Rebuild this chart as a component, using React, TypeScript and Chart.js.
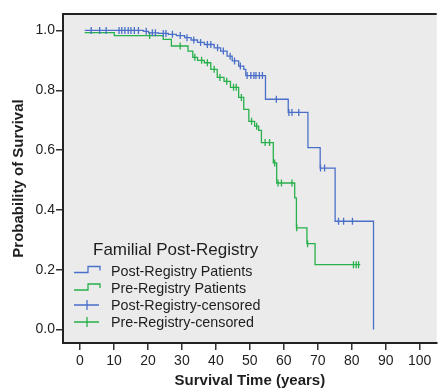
import React, { useEffect, useRef } from "react";
import { Chart, registerables } from "chart.js";

Chart.register(...registerables);

// Kaplan-Meier step data (time in years, survival probability)
const postTimes = [1.4, 18.7, 20.2, 23.1, 26.0, 28.4, 30.8, 32.7, 34.6, 36.6, 39.5, 41.4, 43.3, 44.8, 46.7, 48.2, 48.8, 54.6, 61.3, 67.1, 70.7, 75.1, 86.4];
const postSurv = [1.0, 0.997, 0.992, 0.99, 0.987, 0.983, 0.976, 0.968, 0.96, 0.953, 0.942, 0.931, 0.914, 0.898, 0.881, 0.87, 0.849, 0.77, 0.726, 0.608, 0.54, 0.362, 0.0];

const preTimes = [1.4, 10.1, 24.5, 26.9, 31.8, 33.2, 34.6, 36.6, 38.5, 40.4, 42.4, 44.3, 46.7, 48.2, 49.7, 51.4, 52.6, 53.4, 56.9, 57.9, 63.2, 63.7, 66.8, 69.2, 82.5];
const preSurv = [0.993, 0.983, 0.97, 0.948, 0.931, 0.91, 0.9, 0.892, 0.87, 0.843, 0.83, 0.81, 0.776, 0.736, 0.696, 0.68, 0.666, 0.625, 0.557, 0.49, 0.44, 0.34, 0.287, 0.217, 0.217];

// censoring times
const postCensored = [3.3, 5.8, 7.7, 11.5, 12.3, 13.2, 14.2, 15.0, 16.0, 17.2, 19.5, 21.3, 22.2, 24.5, 25.3, 27.2, 29.5, 31.5, 33.5, 35.5, 37.5, 38.5, 40.5, 42.2, 44.2, 45.5, 47.2, 49.2, 50.3, 51.2, 51.8, 52.8, 53.7, 57.8, 61.5, 62.4, 64.4, 70.8, 72.0, 76.1, 77.6, 80.2];
const preCensored = [20.5, 29.5, 33.8, 35.8, 37.5, 39.5, 41.2, 43.2, 45.2, 46.0, 47.5, 50.5, 52.0, 54.5, 55.8, 57.3, 58.3, 59.3, 62.4, 63.8, 67.0, 80.5, 81.3, 82.0];

const xTickValues = [0, 10, 20, 30, 40, 50, 60, 70, 80, 90, 100];
const yTickValues = [0, 0.2, 0.4, 0.6, 0.8, 1.0];

const legendTitle = "Familial Post-Registry";
const legendLabels = ["Post-Registry Patients", "Pre-Registry Patients", "Post-Registry-censored", "Pre-Registry-censored"];

const xTitle = "Survival Time (years)";
const yTitle = "Probability of Survival";

const BLUE = "#4a6fc9";
const GREEN = "#27b04b";
const TEXT = "#1e1e1e";
const FONT = '"Liberation Sans", Arial, sans-serif';

function survAt(times: number[], surv: number[], t: number) {
  let s = surv[0];
  for (let i = 0; i < times.length; i++) if (times[i] <= t) s = surv[i];
  return s;
}

const bgPlugin = {
  id: "bgPlugin",
  beforeDraw(chart: any) {
    const { ctx, chartArea: a } = chart;
    ctx.save();
    ctx.fillStyle = "#ebebeb";
    ctx.fillRect(a.left, a.top, a.right - a.left, a.bottom - a.top);
    ctx.strokeStyle = "#222";
    ctx.lineWidth = 2;
    ctx.beginPath();
    ctx.moveTo(a.left, a.top);
    ctx.lineTo(a.right, a.top);
    ctx.stroke();
    ctx.restore();
  },
};

const legendPlugin = {
  id: "kmLegend",
  afterDraw(chart: any) {
    const ctx = chart.ctx;
    ctx.save();
    ctx.fillStyle = TEXT;
    ctx.font = `17px ${FONT}`;
    ctx.textBaseline = "alphabetic";
    ctx.textAlign = "left";
    ctx.fillText(legendTitle, 93, 255);
    const rows = [271.5, 289, 306, 323];
    const colors = [BLUE, GREEN, BLUE, GREEN];
    ctx.font = `14.3px ${FONT}`;
    ctx.textBaseline = "middle";
    rows.forEach((y, i) => {
      ctx.strokeStyle = colors[i];
      ctx.lineWidth = 1.3;
      ctx.beginPath();
      if (i < 2) {
        ctx.moveTo(74, y + 1);
        ctx.lineTo(88, y + 1);
        ctx.lineTo(88, y - 5);
        ctx.lineTo(100, y - 5);
        ctx.lineTo(100, y - 1);
      } else {
        ctx.moveTo(74, y - 1);
        ctx.lineTo(99, y - 1);
        ctx.moveTo(87, y - 6);
        ctx.lineTo(87, y + 4);
      }
      ctx.stroke();
      ctx.fillStyle = TEXT;
      ctx.fillText(legendLabels[i], 111, y + 0.5);
    });
    ctx.restore();
  },
};

export default function App() {
  const ref = useRef<HTMLCanvasElement>(null);
  useEffect(() => {
    if (!ref.current) return;
    const postLine = postTimes.map((t, i) => ({ x: t, y: postSurv[i] }));
    const preLine = preTimes.map((t, i) => ({ x: t, y: preSurv[i] }));
    const postC = postCensored.map((t) => ({ x: t, y: survAt(postTimes, postSurv, t) }));
    const preC = preCensored.map((t) => ({ x: t, y: survAt(preTimes, preSurv, t) }));
    const censorStyle = {
      showLine: false,
      pointStyle: "line",
      rotation: 90,
      pointRadius: 3.5,
      pointBorderWidth: 1.3,
      borderWidth: 1.3,
    };
    const chart = new Chart(ref.current, {
      type: "line",
      data: {
        datasets: [
          { label: legendLabels[2], data: postC, borderColor: BLUE, backgroundColor: BLUE, ...censorStyle } as any,
          { label: legendLabels[0], data: postLine, borderColor: BLUE, stepped: true, pointRadius: 0, borderWidth: 1.3, fill: false },
          { label: legendLabels[3], data: preC, borderColor: GREEN, backgroundColor: GREEN, ...censorStyle } as any,
          { label: legendLabels[1], data: preLine, borderColor: GREEN, stepped: true, pointRadius: 0, borderWidth: 1.3, fill: false },
        ],
      },
      options: {
        responsive: false,
        animation: false,
        devicePixelRatio: 1,
        layout: { padding: { top: 14, right: 0, left: 0, bottom: 0 } },
        plugins: { legend: { display: false }, tooltip: { enabled: false } },
        scales: {
          x: {
            type: "linear",
            min: -5,
            max: 105,
            afterBuildTicks: (s: any) => {
              s.ticks = xTickValues.map((v) => ({ value: v }));
            },
            afterFit: (s: any) => {
              s.height = 45;
            },
            ticks: {
              color: TEXT,
              font: { family: FONT, size: 14 },
              padding: 3,
              maxRotation: 0,
              autoSkip: false,
              callback: (v: any) => String(v),
            },
            grid: { drawOnChartArea: false, drawTicks: true, tickLength: 7, color: "#333", lineWidth: 1.5 },
            border: { display: true, color: "#222", width: 2 },
            title: {
              display: true,
              text: xTitle,
              color: TEXT,
              font: { family: FONT, size: 15, weight: "bold", lineHeight: 1 },
              padding: { top: 0, bottom: 0 },
            },
          },
          y: {
            type: "linear",
            min: -0.045,
            max: 1.055,
            afterBuildTicks: (s: any) => {
              s.ticks = yTickValues.map((v) => ({ value: v }));
            },
            afterFit: (s: any) => {
              s.width = 63;
            },
            ticks: {
              color: TEXT,
              font: { family: FONT, size: 14 },
              padding: 1,
              autoSkip: false,
              callback: (v: any) => Number(v).toFixed(1),
            },
            grid: { drawOnChartArea: false, drawTicks: true, tickLength: 7, color: "#333", lineWidth: 1.5 },
            border: { display: true, color: "#222", width: 2 },
            title: {
              display: true,
              text: yTitle,
              color: TEXT,
              font: { family: FONT, size: 15, weight: "bold", lineHeight: 1 },
              padding: { top: 11, bottom: 0 },
            },
          },
        },
      },
      plugins: [bgPlugin, legendPlugin],
    } as any);
    return () => chart.destroy();
  }, []);
  return (
    <div style={{ position: "fixed", left: 0, top: 0, width: 442, height: 388, background: "#fff" }}>
      <canvas ref={ref} width={442} height={388} />
    </div>
  );
}
